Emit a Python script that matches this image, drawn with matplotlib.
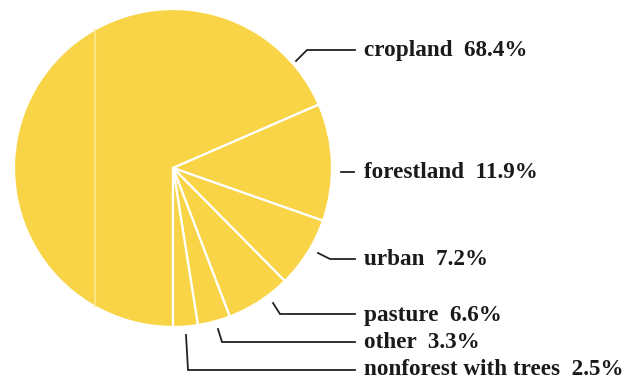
import matplotlib
matplotlib.use("Agg")
import matplotlib.pyplot as plt
import numpy as np

# Land use shares (percent), listed clockwise from the bottom of the pie
categories = ["cropland", "forestland", "urban", "pasture", "other", "nonforest with trees"]
shares = [68.4, 11.9, 7.2, 6.6, 3.3, 2.5]

W, H = 641, 380
fig = plt.figure(figsize=(W / 100, H / 100), dpi=100)
ax = fig.add_axes([0, 0, 1, 1])

yellow = "#F8D446"
cx, cy, r = 173, H - 168, 159

wedges, _ = ax.pie(shares, radius=r, center=(cx, cy), startangle=-90,
                   counterclock=False, colors=[yellow] * len(shares),
                   wedgeprops=dict(edgecolor="white", linewidth=1.6),
                   frame=True)

# faint crease running through the large wedge
crease_x = 95
half = np.sqrt(r ** 2 - (crease_x - cx) ** 2)
crease, = ax.plot([crease_x, crease_x], [cy - half, cy + half],
                  color="#FCE682", lw=1.5, zorder=3)
crease.set_clip_path(wedges[0])

ax.set_xlim(0, W)
ax.set_ylim(0, H)
ax.axis("off")

# leader polylines (pixel layout, y measured from the top) and label baselines
leaders = [
    [(296, 61), (307, 50), (355, 50)],
    [(341, 172), (354, 172)],
    [(318, 253), (330, 259), (355, 259)],
    [(273, 303), (280, 314), (355, 314)],
    [(218, 329), (222, 342), (355, 342)],
    [(186, 335), (188, 370), (355, 370)],
]
baselines = [56, 178, 265, 321, 348, 375]

for name, val, pts, base in zip(categories, shares, leaders, baselines):
    xs = [p[0] for p in pts]
    ys = [H - p[1] for p in pts]
    ax.plot(xs, ys, color="#222222", lw=1.3, solid_joinstyle="miter")
    ax.text(364, H - base, f"{name}  {val}%", fontsize=16.7, fontweight="bold",
            family="Liberation Serif", color="#1a1a1a", va="baseline", ha="left")

fig.savefig("out.png", dpi=100)
